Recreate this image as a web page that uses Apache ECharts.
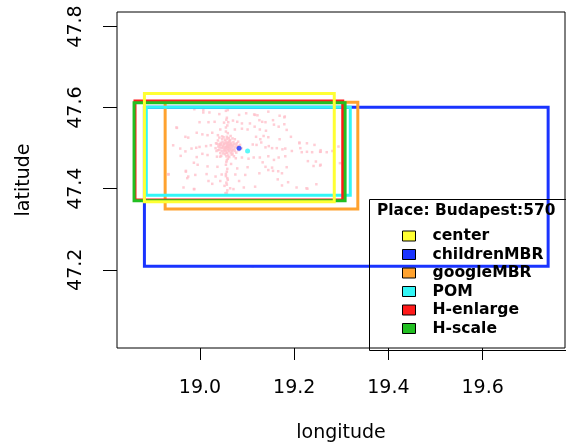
<!DOCTYPE html>
<html>
<head>
<meta charset="utf-8">
<script src="https://cdn.jsdelivr.net/npm/echarts@6/dist/echarts.min.js"></script>
<style>html,body{margin:0;padding:0;background:#fff;}#chart{width:566px;height:442px;}</style>
</head>
<body>
<div id="chart"></div>
<script>
const xTicks = [19.0, 19.2, 19.4, 19.6];
const yTicks = [47.2, 47.4, 47.6, 47.8];
const xLabel = 'longitude';
const yLabel = 'latitude';
const legendTitle = 'Place: Budapest:570';
const rectNames = ['center', 'childrenMBR', 'googleMBR', 'POM', 'H-enlarge', 'H-scale'];
const rectLonMin = [18.882, 18.882, 18.926, 18.886, 18.862, 18.860];
const rectLonMax = [19.285, 19.739, 19.335, 19.319, 19.303, 19.308];
const rectLatMin = [47.368, 47.209, 47.350, 47.384, 47.372, 47.370];
const rectLatMax = [47.635, 47.601, 47.613, 47.601, 47.616, 47.612];
const childrenCenter = [19.083, 47.500];
const pomCenter = [19.101, 47.493];
const placePoints = [
[18.988,47.596],[19.007,47.588],[19.020,47.588],[19.041,47.584],[19.059,47.594],[19.083,47.582],[19.098,47.586],
[19.115,47.583],[19.122,47.581],[19.145,47.590],[19.155,47.569],[19.169,47.580],[19.179,47.576],[19.179,47.559],
[18.950,47.551],[18.999,47.564],[19.018,47.564],[19.031,47.565],[19.051,47.563],[19.060,47.564],[19.070,47.568],
[19.079,47.565],[19.089,47.561],[19.106,47.561],[19.126,47.569],[19.132,47.565],[19.139,47.564],
[19.043,47.546],[19.055,47.551],[19.074,47.546],[19.089,47.548],[19.101,47.546],[19.116,47.553],[19.127,47.546],
[19.140,47.543],[19.157,47.558],[19.167,47.553],[19.184,47.545],
[18.969,47.528],[18.975,47.526],[18.993,47.538],[19.005,47.534],[19.016,47.532],[19.026,47.538],[19.038,47.532],
[19.041,47.526],[19.119,47.528],[19.128,47.522],[19.135,47.530],[19.145,47.527],[19.169,47.522],[19.193,47.528],
[19.211,47.514],[19.227,47.512],[19.243,47.508],[19.256,47.495],[19.269,47.490],[19.294,47.504],
[18.943,47.507],[18.958,47.499],[18.969,47.492],[18.982,47.499],[18.992,47.501],[18.999,47.503],[19.013,47.505],
[19.023,47.507],[19.034,47.512],[19.038,47.495],[19.043,47.509],[19.112,47.509],[19.120,47.508],[19.130,47.514],
[19.139,47.502],[19.146,47.505],[19.153,47.500],[19.163,47.500],[19.175,47.497],[19.181,47.499],[19.195,47.493],
[19.213,47.500],[19.216,47.490],[19.227,47.491],[19.238,47.490],[19.256,47.491],[19.281,47.493],
[18.959,47.481],[18.993,47.478],[19.005,47.486],[19.016,47.483],[19.036,47.479],[19.043,47.479],[19.076,47.475],
[19.089,47.477],[19.103,47.474],[19.114,47.477],[19.127,47.477],[19.145,47.480],[19.157,47.471],[19.167,47.477],
[19.181,47.480],
[18.987,47.464],[18.995,47.459],[19.016,47.455],[19.037,47.454],[19.055,47.459],[19.066,47.461],[19.079,47.450],
[19.101,47.453],[19.133,47.465],[19.139,47.454],[19.153,47.452],[19.155,47.444],[19.166,47.443],[19.174,47.438],
[19.184,47.453],[19.229,47.468],[19.241,47.456],[19.256,47.459],[19.297,47.463],
[18.933,47.435],[18.970,47.442],[18.975,47.430],[18.990,47.434],[19.014,47.436],[19.033,47.430],[19.046,47.435],
[19.055,47.436],[19.058,47.426],[19.075,47.435],[19.096,47.434],[19.126,47.438],[19.145,47.446],[19.165,47.423],
[18.965,47.403],[18.987,47.399],[19.018,47.419],[19.026,47.412],[19.043,47.419],[19.052,47.407],[19.064,47.401],
[19.083,47.419],[19.093,47.403],[19.117,47.405],[19.174,47.408],[19.205,47.403],[19.228,47.400],[19.247,47.411],
[19.054,47.389],[19.071,47.399],
[19.057,47.575],[19.056,47.570],[19.058,47.556],[19.055,47.541],[19.059,47.537],[19.057,47.470],[19.056,47.466],
[19.058,47.449],[19.057,47.442],[19.055,47.431],[19.059,47.422],[19.056,47.415],[19.057,47.410],[19.058,47.396],
[18.951,47.550],[18.933,47.436],[19.007,47.594],[19.055,47.592],[19.117,47.582],[19.180,47.578],[19.211,47.512],
[19.255,47.491],[19.246,47.467],[19.255,47.457],[19.187,47.416],[19.226,47.401],[18.970,47.444],[18.973,47.426],
[18.988,47.399],[19.057,47.390],[19.739,47.516],[19.112,47.208],
[19.060,47.503],[19.058,47.506],[19.062,47.500],[19.055,47.504],[19.065,47.507],[19.052,47.499],[19.067,47.501],
[19.057,47.510],[19.063,47.497],[19.049,47.505],[19.070,47.504],[19.059,47.495],[19.054,47.512],[19.066,47.513],
[19.046,47.500],[19.073,47.498],[19.061,47.516],[19.051,47.492],[19.068,47.492],[19.044,47.508],[19.076,47.509],
[19.056,47.489],[19.064,47.520],[19.048,47.515],[19.071,47.515],[19.041,47.496],[19.079,47.502],[19.058,47.523],
[19.053,47.485],[19.069,47.486],[19.039,47.504],[19.082,47.495],[19.060,47.482],[19.047,47.522],[19.074,47.522],
[19.036,47.511],[19.085,47.508],[19.057,47.528],[19.043,47.488],[19.077,47.489],[19.062,47.478],[19.050,47.527],
[19.033,47.500],[19.088,47.500],[19.065,47.530],[19.045,47.481],[19.072,47.480],[19.038,47.519],[19.081,47.516],
[19.059,47.474],[19.056,47.501],[19.061,47.508],[19.053,47.502],[19.064,47.504],[19.058,47.499],[19.063,47.511],
[19.050,47.509],[19.067,47.496],[19.055,47.494],[19.060,47.512],[19.052,47.496],[19.066,47.509],[19.059,47.505],
[19.062,47.493],[19.057,47.514],[19.048,47.502],[19.069,47.507],[19.054,47.517],[19.065,47.489],[19.051,47.511],
[19.072,47.510],[19.046,47.493],[19.063,47.518],[19.058,47.488],[19.070,47.495],[19.044,47.513],[19.075,47.503],
[19.053,47.521],[19.067,47.484],[19.042,47.502],[19.078,47.512],[19.061,47.525],[19.049,47.487],[19.074,47.493],
[19.040,47.509],[19.056,47.480],[19.080,47.505],[19.047,47.529],[19.069,47.524],[19.035,47.493]
];

const rectColors = {
  'center': '#ffff33',
  'childrenMBR': '#1a34ff',
  'googleMBR': '#ffa22e',
  'POM': '#33f6f6',
  'H-enlarge': '#ff1a1a',
  'H-scale': '#22bf22'
};
const drawOrder = ['childrenMBR', 'googleMBR', 'POM', 'H-enlarge', 'H-scale', 'center'];
const FONT = 'DejaVu Sans';

const chart = echarts.init(document.getElementById('chart'), null, {renderer: 'canvas'});

const series = [];
series.push({
  type: 'scatter', name: 'points', data: placePoints, symbol: 'rect', symbolSize: 2.5,
  itemStyle: {color: '#ffc0cb'}, silent: true, z: 2
});
drawOrder.forEach(function (nm) {
  const i = rectNames.indexOf(nm);
  const x0 = rectLonMin[i], x1 = rectLonMax[i], y0 = rectLatMin[i], y1 = rectLatMax[i];
  series.push({
    type: 'line', name: nm,
    data: [[x0, y0], [x1, y0], [x1, y1], [x0, y1], [x0, y0]],
    showSymbol: false, symbol: 'none', silent: true, z: 3,
    lineStyle: {color: rectColors[nm], width: 3, join: 'miter', cap: 'square'},
    itemStyle: {color: rectColors[nm]}
  });
});
series.push({
  type: 'scatter', name: 'childrenCenter', data: [childrenCenter], symbol: 'circle', symbolSize: 5,
  itemStyle: {color: '#1a34ff'}, silent: true, z: 4
});
series.push({
  type: 'scatter', name: 'pomCenter', data: [pomCenter], symbol: 'circle', symbolSize: 5,
  itemStyle: {color: '#33f6f6'}, silent: true, z: 4
});

const option = {
  animation: false,
  backgroundColor: '#fff',
  grid: {left: 117, right: 1, top: 12, bottom: 94, show: true, borderColor: '#000', borderWidth: 1,
    backgroundColor: 'transparent', containLabel: false, outerBoundsMode: 'none'},
  title: {
    text: legendTitle, left: 377, top: 203, padding: 0,
    textStyle: {fontFamily: FONT, fontSize: 15.4, fontWeight: 'bold', color: '#000'}
  },
  graphic: [{
    type: 'rect', left: 367, top: 197, shape: {width: 198, height: 151},
    style: {fill: 'none', stroke: '#000', lineWidth: 1}, z: 100, silent: true
  }],
  legend: {
    orient: 'vertical', left: 402, top: 228, padding: 0,
    data: rectNames.map(function (n) { return {name: n, icon: 'rect'}; }),
    itemWidth: 13, itemHeight: 10, itemGap: 2.5,
    itemStyle: {borderColor: '#000', borderWidth: 1},
    textStyle: {fontFamily: FONT, fontSize: 15.6, fontWeight: 'bold', color: '#000', lineHeight: 16, padding: [0, 0, 0, 12]},
    selectedMode: false
  },
  xAxis: {
    type: 'value', min: 18.8238, max: 19.7748,
    name: xLabel, nameLocation: 'middle', nameGap: 76,
    nameTextStyle: {fontFamily: FONT, fontSize: 19, color: '#000'},
    splitLine: {show: false},
    axisLine: {show: false},
    axisTick: {show: true, length: 12, customValues: xTicks, lineStyle: {color: '#000', width: 1}},
    axisLabel: {customValues: xTicks, fontFamily: FONT, fontSize: 19, color: '#000', margin: 31,
      formatter: function (v) { return v.toFixed(1); }}
  },
  yAxis: {
    type: 'value', min: 47.0071, max: 47.8358,
    name: yLabel, nameLocation: 'middle', nameGap: 83,
    nameTextStyle: {fontFamily: FONT, fontSize: 19, color: '#000'},
    splitLine: {show: false},
    axisLine: {show: false},
    axisTick: {show: true, length: 14, customValues: yTicks, lineStyle: {color: '#000', width: 1}},
    axisLabel: {customValues: yTicks, rotate: 90, fontFamily: FONT, fontSize: 19, color: '#000', margin: 31,
      formatter: function (v) { return v.toFixed(1); }}
  },
  series: series
};
chart.setOption(option);
</script>
</body>
</html>
